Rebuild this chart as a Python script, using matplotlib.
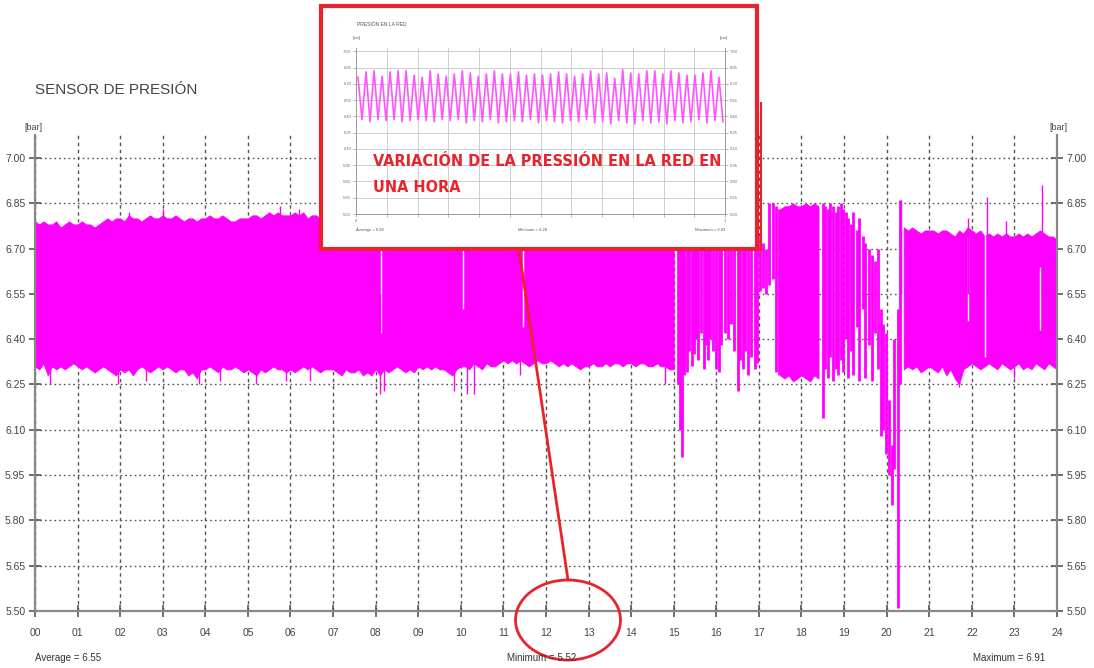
import numpy as np
import matplotlib.pyplot as plt
from matplotlib.patches import Ellipse, Rectangle
from matplotlib.lines import Line2D

plt.rcParams['font.family'] = ['Liberation Sans', 'DejaVu Sans']

# ---- 24 h pressure record [bar] ----
# dense oscillation envelope, every 0.1 h
band_a_hours = np.linspace(0, 15, 151)
band_a_hi = [
    6.79, 6.78, 6.79, 6.78, 6.78, 6.79, 6.77, 6.78, 6.79, 6.78,
    6.78, 6.79, 6.78, 6.78, 6.77, 6.78, 6.79, 6.80, 6.79, 6.80,
    6.80, 6.79, 6.81, 6.80, 6.80, 6.79, 6.80, 6.81, 6.80, 6.80,
    6.81, 6.80, 6.80, 6.81, 6.80, 6.79, 6.80, 6.80, 6.79, 6.80,
    6.80, 6.81, 6.80, 6.80, 6.81, 6.80, 6.79, 6.79, 6.80, 6.80,
    6.80, 6.81, 6.81, 6.80, 6.81, 6.82, 6.81, 6.82, 6.81, 6.81,
    6.81, 6.82, 6.81, 6.82, 6.80, 6.81, 6.81, 6.80, 6.80, 6.80,
    6.80, 6.81, 6.80, 6.80, 6.81, 6.80, 6.80, 6.81, 6.80, 6.80,
    6.81, 6.80, 6.80, 6.81, 6.80, 6.80, 6.81, 6.80, 6.81, 6.80,
    6.80, 6.81, 6.80, 6.80, 6.81, 6.80, 6.80, 6.81, 6.80, 6.80,
    6.81, 6.80, 6.80, 6.81, 6.80, 6.80, 6.81, 6.80, 6.81, 6.80,
    6.80, 6.81, 6.80, 6.80, 6.81, 6.80, 6.80, 6.81, 6.80, 6.80,
    6.81, 6.80, 6.80, 6.81, 6.80, 6.80, 6.81, 6.80, 6.81, 6.80,
    6.80, 6.81, 6.80, 6.80, 6.81, 6.80, 6.80, 6.81, 6.80, 6.80,
    6.81, 6.80, 6.80, 6.81, 6.80, 6.80, 6.81, 6.80, 6.81, 6.80,
    6.80]
band_a_lo = [
    6.31, 6.30, 6.32, 6.28, 6.31, 6.30, 6.31, 6.30, 6.31, 6.32,
    6.31, 6.30, 6.31, 6.30, 6.29, 6.30, 6.31, 6.30, 6.29, 6.28,
    6.30, 6.29, 6.30, 6.28, 6.30, 6.31, 6.30, 6.29, 6.30, 6.31,
    6.30, 6.31, 6.30, 6.29, 6.30, 6.30, 6.28, 6.29, 6.27, 6.30,
    6.30, 6.31, 6.30, 6.29, 6.31, 6.30, 6.30, 6.31, 6.30, 6.29,
    6.30, 6.29, 6.28, 6.30, 6.29, 6.30, 6.31, 6.30, 6.30, 6.29,
    6.30, 6.29, 6.30, 6.31, 6.30, 6.31, 6.30, 6.29, 6.30, 6.30,
    6.30, 6.29, 6.28, 6.30, 6.29, 6.29, 6.30, 6.28, 6.29, 6.28,
    6.30, 6.28, 6.30, 6.29, 6.30, 6.31, 6.30, 6.29, 6.30, 6.29,
    6.31, 6.30, 6.31, 6.30, 6.31, 6.30, 6.30, 6.29, 6.28, 6.30,
    6.31, 6.31, 6.30, 6.32, 6.31, 6.30, 6.32, 6.31, 6.31, 6.32,
    6.33, 6.32, 6.33, 6.32, 6.33, 6.32, 6.31, 6.32, 6.33, 6.32,
    6.32, 6.33, 6.32, 6.31, 6.32, 6.31, 6.32, 6.31, 6.30, 6.31,
    6.31, 6.32, 6.31, 6.31, 6.32, 6.31, 6.32, 6.32, 6.31, 6.32,
    6.32, 6.31, 6.32, 6.32, 6.31, 6.31, 6.32, 6.31, 6.31, 6.30,
    6.30]

band_b_hours = np.linspace(17.5, 18.4, 10)
band_b_hi = [6.83, 6.84, 6.84, 6.85, 6.84, 6.84, 6.85, 6.84, 6.85, 6.84]
band_b_lo = [6.28, 6.27, 6.28, 6.26, 6.27, 6.28, 6.27, 6.26, 6.28, 6.27]

band_c_hours = np.linspace(20.4, 24.0, 37)
band_c_hi = [
    6.77, 6.76, 6.77, 6.76, 6.75, 6.76,
    6.76, 6.76, 6.75, 6.76, 6.76, 6.75, 6.74, 6.76, 6.75, 6.77,
    6.76, 6.75, 6.76, 6.74, 6.75, 6.74, 6.75, 6.74, 6.75, 6.74,
    6.74, 6.75, 6.74, 6.75, 6.74, 6.75, 6.76, 6.75, 6.74, 6.74,
    6.73]
band_c_lo = [
    6.30, 6.31, 6.30, 6.31, 6.29, 6.30,
    6.31, 6.30, 6.29, 6.31, 6.28, 6.30, 6.27, 6.25, 6.30, 6.31,
    6.32, 6.31, 6.30, 6.31, 6.32, 6.31, 6.30, 6.32, 6.31, 6.30,
    6.31, 6.32, 6.30, 6.31, 6.30, 6.32, 6.31, 6.30, 6.32, 6.31,
    6.30]

# single excursions out of the band
spike_hours = [0.35, 1.95, 2.6, 3.85, 4.35, 5.2, 5.9, 6.45, 8.1, 8.2, 9.85,
               10.15, 10.3, 11.4, 14.8, 21.7, 23.0,
               2.2, 3.0, 5.75, 6.2, 20.33, 21.9, 22.35, 22.8, 23.65]
spike_vals = [6.25, 6.25, 6.26, 6.25, 6.26, 6.25, 6.26, 6.26, 6.22, 6.23, 6.23,
              6.22, 6.22, 6.28, 6.25, 6.24, 6.27,
              6.82, 6.83, 6.84, 6.83, 6.86, 6.80, 6.87, 6.79, 6.91]

# short drop-outs inside the band
gap_hours = [8.13, 10.05, 11.45, 21.9, 22.31, 23.6]
gap_lo = [6.42, 6.50, 6.44, 6.46, 6.34, 6.43]
gap_hi = [6.80, 6.80, 6.80, 6.74, 6.74, 6.64]

# irregular part of the afternoon: individual swings (hour, low, high)
swing_hours = [15.10, 15.15, 15.19, 15.23, 15.30, 15.36, 15.42, 15.48, 15.53,
               15.58, 15.64, 15.70, 15.75, 15.80, 15.86, 15.92, 16.00, 16.06,
               16.12, 16.20, 16.27, 16.35, 16.42, 16.50, 16.56, 16.62, 16.68,
               16.75, 16.82, 16.90, 16.96, 17.03, 17.10, 17.17, 17.24, 17.32,
               17.40, 17.48,
               18.50, 18.56, 18.62, 18.68, 18.74, 18.80, 18.86, 18.92, 18.98,
               19.04, 19.10, 19.16, 19.22, 19.30, 19.36, 19.44, 19.50, 19.58,
               19.65, 19.72, 19.80, 19.86, 19.92, 19.98, 20.05, 20.12, 20.18,
               20.26, 20.32]
swing_lo = [6.25, 6.10, 6.01, 6.28, 6.29, 6.36, 6.31, 6.35, 6.40,
            6.33, 6.42, 6.30, 6.38, 6.33, 6.40, 6.36, 6.30, 6.29,
            6.38, 6.42, 6.40, 6.45, 6.36, 6.23, 6.33, 6.30, 6.36,
            6.28, 6.34, 6.30, 6.32, 6.56, 6.57, 6.55, 6.58, 6.60,
            6.29, 6.28,
            6.14, 6.30, 6.27, 6.34, 6.26, 6.30, 6.28, 6.33, 6.29,
            6.40, 6.27, 6.36, 6.28, 6.44, 6.26, 6.50, 6.27, 6.38,
            6.26, 6.42, 6.30, 6.08, 6.10, 6.02, 5.95, 5.85, 5.97,
            5.51, 6.25]
swing_hi = [6.80, 6.78, 6.75, 6.80, 6.82, 6.80, 6.79, 6.81, 6.80,
            6.80, 6.82, 6.80, 6.79, 6.81, 6.80, 6.82, 6.80, 6.79,
            6.81, 6.80, 6.78, 6.80, 6.80, 6.79, 6.80, 6.81, 6.80,
            6.79, 6.80, 6.81, 6.74, 6.74, 6.72, 6.70, 6.85, 6.85,
            6.84, 6.83,
            6.85, 6.84, 6.83, 6.85, 6.84, 6.82, 6.84, 6.85, 6.83,
            6.82, 6.80, 6.78, 6.82, 6.76, 6.80, 6.74, 6.72, 6.70,
            6.68, 6.66, 6.70, 6.50, 6.45, 6.42, 6.20, 6.05, 6.40,
            6.50, 6.86]

y_ticks = [5.50, 5.65, 5.80, 5.95, 6.10, 6.25, 6.40, 6.55, 6.70, 6.85, 7.00]
x_ticks = list(range(25))
x_labels = ['%02d' % h for h in x_ticks]
stats = ['Average = 6.55', 'Minimum = 5.52', 'Maximum = 6.91']

# ---- one hour detail (inset) ----
hour_peaks = [6.76, 6.81, 6.82, 6.77, 6.81, 6.82, 6.82, 6.78, 6.76, 6.82,
              6.79, 6.77, 6.79, 6.82, 6.80, 6.77, 6.79, 6.82, 6.79, 6.79,
              6.81, 6.78, 6.79, 6.78, 6.79, 6.81, 6.79, 6.77, 6.79, 6.82,
              6.79, 6.80, 6.75, 6.83, 6.80, 6.79, 6.82, 6.82, 6.79, 6.82,
              6.80, 6.78, 6.78, 6.80, 6.82, 6.76]
hour_troughs = [6.37, 6.35, 6.37, 6.36, 6.37, 6.35, 6.36, 6.37, 6.36, 6.35,
                6.37, 6.36, 6.37, 6.34, 6.36, 6.35, 6.37, 6.34, 6.35, 6.36,
                6.35, 6.37, 6.34, 6.36, 6.35, 6.34, 6.36, 6.35, 6.37, 6.34,
                6.35, 6.33, 6.36, 6.34, 6.33, 6.36, 6.34, 6.35, 6.33, 6.36,
                6.34, 6.35, 6.37, 6.34, 6.36, 6.35]
hour_stats = ['Average = 6.58', 'Minimum = 6.28', 'Maximum = 6.83']

MAGENTA = '#ff00ff'
RED = '#e8232b'
GREY = '#555555'

W, H = 1094, 668


def fx(px):
    return px / W


def fy(py):
    return 1 - py / H


fig = plt.figure(figsize=(W / 100, H / 100), dpi=100)
fig.patch.set_facecolor('white')

ax = fig.add_axes([fx(35), fy(611), fx(1057) - fx(35), fy(135) - fy(611)])
ax.set_xlim(0, 24)
ax.set_ylim(5.50, 7.076)
ax.set_axisbelow(True)

ax.fill_between(band_a_hours, band_a_lo, band_a_hi, color=MAGENTA, lw=0.6)
ax.fill_between(band_b_hours, band_b_lo, band_b_hi, color=MAGENTA, lw=0.6)
ax.fill_between(band_c_hours, band_c_lo, band_c_hi, color=MAGENTA, lw=0.6)
ax.vlines(gap_hours, gap_lo, gap_hi, color='white', lw=1.0)
ax.vlines(spike_hours, 6.55, spike_vals, color=MAGENTA, lw=1.0)
ax.vlines(swing_hours, swing_lo, swing_hi, color=MAGENTA, lw=2.0)

ax.set_yticks(y_ticks)
ax.set_yticklabels(['%.2f' % v for v in y_ticks])
ax.set_xticks(x_ticks)
ax.set_xticklabels(x_labels)
ax.tick_params(axis='both', direction='inout', length=8, width=1.2, color=GREY,
               labelsize=7.5, labelcolor='#444444')
ax.tick_params(axis='y', left=True, right=True, labelleft=True, labelright=True, pad=3)
ax.tick_params(axis='x', pad=8)
ax.yaxis.grid(True, linestyle=(0, (1.2, 2.2)), color=GREY, lw=1.0)
ax.xaxis.grid(True, linestyle=(0, (2.5, 2.5)), color=GREY, lw=1.0)
ax.spines['top'].set_visible(False)
for s in ('left', 'right', 'bottom'):
    ax.spines[s].set_color('#888888')
    ax.spines[s].set_linewidth(1.6)

fig.text(fx(35), fy(90), 'SENSOR DE PRESIÓN', fontsize=11, color='#444444',
         va='center', ha='left')
fig.text(fx(33), fy(127), '[bar]', fontsize=6.5, color='#444444', ha='center', va='center')
fig.text(fx(1058), fy(127), '[bar]', fontsize=6.5, color='#444444', ha='center', va='center')
fig.text(fx(35), fy(658), stats[0], fontsize=7, color='#333333', va='center')
fig.text(fx(542), fy(658), stats[1], fontsize=7, color='#333333', va='center', ha='center')
fig.text(fx(1045), fy(658), stats[2], fontsize=7, color='#333333', va='center', ha='right')

# frame around the one hour detail
frame = Rectangle((fx(321), fy(249)), fx(757) - fx(321), fy(6) - fy(249),
                  transform=fig.transFigure, facecolor='white', edgecolor=RED,
                  lw=3, zorder=1.5)
fig.patches.append(frame)
fig.lines.append(Line2D([fx(761), fx(761)], [fy(103), fy(250)],
                        transform=fig.transFigure, color=RED, lw=1.5, zorder=1.5))

ins = fig.add_axes([fx(356), fy(214), fx(725) - fx(356), fy(48) - fy(214)])
ins.set_zorder(2)
ins.set_facecolor('white')
n = len(hour_peaks)
t_peak = (np.arange(n) + 0.25) / n
t_trough = (np.arange(n) + 0.75) / n
t_line = np.empty(2 * n)
v_line = np.empty(2 * n)
t_line[0::2], t_line[1::2] = t_peak, t_trough
v_line[0::2], v_line[1::2] = hour_peaks, hour_troughs
ins.plot(t_line, v_line, color='#ff55ff', lw=1.2)
ins.set_xlim(0, 1)
ins.set_ylim(5.50, 7.03)
ins.set_yticks(y_ticks)
ins.set_yticklabels(['%.2f' % v for v in y_ticks])
ins.set_xticks(np.arange(13) / 12)
ins.set_xticklabels(['0'] + [''] * 11 + ['1'])
ins.tick_params(axis='both', length=2, width=0.5, color='#999999', labelsize=3,
                labelcolor='#666666', pad=1.5)
ins.tick_params(axis='y', right=True, labelright=True)
ins.grid(True, color='#c8c8c8', lw=0.6)
ins.spines['top'].set_visible(False)
for s in ('left', 'right', 'bottom'):
    ins.spines[s].set_color('#999999')
    ins.spines[s].set_linewidth(0.7)
fig.text(fx(357), fy(25), 'PRESIÓN EN LA RED', fontsize=3.6, color='#555555',
         va='center', zorder=4)
fig.text(fx(357), fy(38), '[bar]', fontsize=3, color='#555555', va='center', ha='center', zorder=4)
fig.text(fx(724), fy(38), '[bar]', fontsize=3, color='#555555', va='center', ha='center', zorder=4)
fig.text(fx(356), fy(230), hour_stats[0], fontsize=3, color='#555555', va='center', zorder=4)
fig.text(fx(532), fy(230), hour_stats[1], fontsize=3, color='#555555', va='center',
         ha='center', zorder=4)
fig.text(fx(725), fy(230), hour_stats[2], fontsize=3, color='#555555', va='center',
         ha='right', zorder=4)

red_font = dict(color=RED, fontsize=11.6, fontweight='bold', family='DejaVu Sans',
                fontstretch='condensed', va='center', zorder=5)
fig.text(fx(373), fy(161), 'VARIACIÓN DE LA PRESSIÓN EN LA RED EN', **red_font)
fig.text(fx(373), fy(187), 'UNA HORA', **red_font)

# pointer from the detail to the 12-13 h window
fig.lines.append(Line2D([fx(519), fx(568)], [fy(250), fy(580)],
                        transform=fig.transFigure, color=RED, lw=2, zorder=3))
fig.patches.append(Ellipse((fx(568), fy(620)), fx(105), 80 / H, transform=fig.transFigure,
                           fill=False, edgecolor=RED, lw=2, zorder=3))

fig.savefig('out.png', dpi=100)
